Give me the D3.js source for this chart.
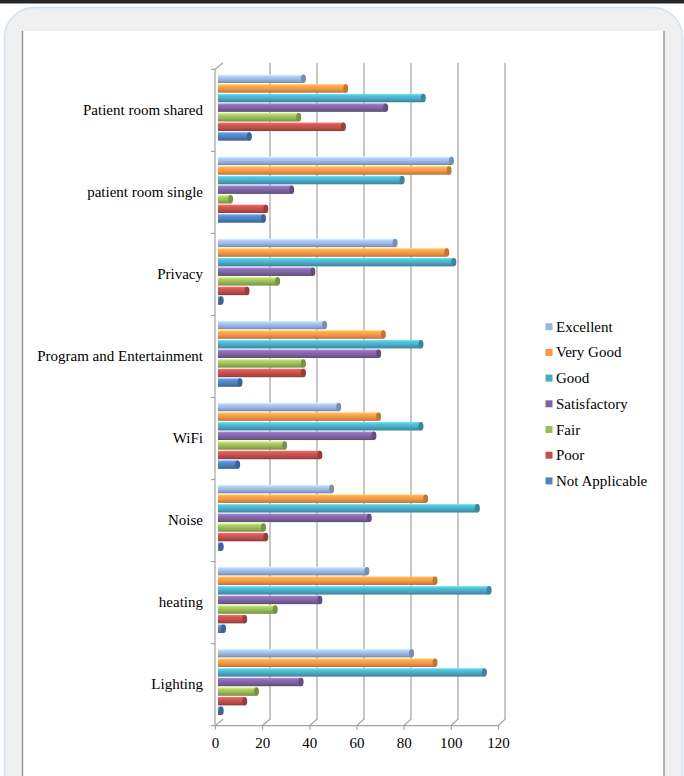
<!DOCTYPE html>
<html>
<head>
<meta charset="utf-8">
<script src="https://cdn.jsdelivr.net/npm/d3@7/dist/d3.min.js"></script>
<style>
  html, body { margin: 0; padding: 0; background: #ffffff; }
  svg { display: block; }
  text { font-family: "Liberation Serif", "Times New Roman", serif; fill: #000; }
</style>
</head>
<body>
<svg id="chart" width="684" height="776"></svg>
<script>
// Facility ratings, one row per category (top to bottom as drawn)
const categories = [
  "Patient room shared", "patient room single", "Privacy",
  "Program and Entertainment", "WiFi", "Noise", "heating", "Lighting"
];
const seriesNames = ["Excellent", "Very Good", "Good", "Satisfactory", "Fair", "Poor", "Not Applicable"];
const seriesColors = ["#9db7e0", "#f79646", "#4bacc6", "#8064a2", "#9bbb59", "#c0504d", "#4f81bd"];

const excellent     = [37, 100, 76, 46, 52, 49, 64, 83];
const veryGood      = [55, 99, 98, 71, 69, 89, 93, 93];
const good          = [88, 79, 101, 87, 87, 111, 116, 114];
const satisfactory  = [72, 32, 41, 69, 67, 65, 44, 36];
const fair          = [35, 6, 26, 37, 29, 20, 25, 17];
const poor          = [54, 21, 13, 37, 44, 21, 12, 12];
const notApplicable = [14, 20, 2, 10, 9, 2, 3, 2];

const xTicks = [0, 20, 40, 60, 80, 100, 120];

const seriesValues = [excellent, veryGood, good, satisfactory, fair, poor, notApplicable];

const svg = d3.select("#chart");

// ---- page frame ----
svg.append("rect").attr("x", 0).attr("y", 0).attr("width", 684).attr("height", 3.5).attr("fill", "#262626");
svg.append("rect")
  .attr("x", 4.5).attr("y", 7.5).attr("width", 678).attr("height", 820)
  .attr("rx", 30).attr("ry", 30)
  .attr("fill", "#f0f0f0").attr("stroke", "#cfe3f1").attr("stroke-width", 1.5);
svg.append("rect").attr("x", 22).attr("y", 31).attr("width", 642).attr("height", 760).attr("fill", "#ffffff");
svg.append("line").attr("x1", 22.5).attr("x2", 22.5).attr("y1", 31).attr("y2", 776).attr("stroke", "#8c8c8c").attr("stroke-width", 1.3);
svg.append("line").attr("x1", 664).attr("x2", 664).attr("y1", 31).attr("y2", 776).attr("stroke", "#8c8c8c").attr("stroke-width", 1.3);

// ---- scales ----
const x = d3.scaleLinear().domain([0, 120]).range([218, 500]);        // bar depth (mid plane)
const xFront = d3.scaleLinear().domain([0, 120]).range([215, 498]);   // front axis plane
const xBack = d3.scaleLinear().domain([0, 120]).range([223, 505]);    // back wall plane

const yTop = 69.3, yBottom = 725.7, backLift = 6.5;
const y = d3.scaleBand().domain(categories).range([yTop, yBottom]).padding(0);
const yInner = d3.scaleBand().domain(seriesNames).range([0, 66.05]).paddingInner(0.12);

const gridColor = "#a3a3a3";
const grid = svg.append("g").attr("fill", "none").attr("stroke", gridColor).attr("stroke-width", 1.2);

// back wall gridlines with their oblique floor segment to the front axis
xTicks.forEach(t => {
  if (t === 0) return;
  grid.append("path").attr("d",
    `M${xBack(t)},${yTop - backLift} L${xBack(t)},${yBottom - backLift} L${xFront(t)},${yBottom}`);
});
// floor edge at zero, top-left corner of the wall
grid.append("path").attr("d", `M${xBack(0)},${yBottom - backLift} L${xFront(0)},${yBottom}`);
grid.append("path").attr("d", `M${xFront(0)},${yTop} L${xBack(0)},${yTop - backLift}`);

// ---- value axis (front) ----
const xAxis = d3.axisBottom(xFront).tickValues(xTicks).tickSize(4).tickPadding(8).tickFormat(d3.format("d"));
const gx = svg.append("g").attr("transform", `translate(0,${yBottom})`).call(xAxis);
gx.select(".domain").attr("stroke", gridColor).attr("stroke-width", 1.2).attr("d", `M${xFront(0)},0H${xFront(120)}`);
gx.selectAll(".tick line").attr("stroke", gridColor).attr("stroke-width", 1.2);
gx.selectAll(".tick text").attr("font-family", "Liberation Serif, serif").attr("font-size", 15).attr("fill", "#000");

// ---- category axis (left) ----
const boundaries = categories.map(c => y(c)).concat([yBottom]);
const gy = svg.append("g");
gy.append("line").attr("x1", xFront(0)).attr("x2", xFront(0)).attr("y1", yTop).attr("y2", yBottom)
  .attr("stroke", gridColor).attr("stroke-width", 1.2);
gy.selectAll("line.tick").data(boundaries).join("line").attr("class", "tick")
  .attr("x1", xFront(0) - 4).attr("x2", xFront(0)).attr("y1", d => d).attr("y2", d => d)
  .attr("stroke", gridColor).attr("stroke-width", 1.2);
gy.selectAll("text").data(categories).join("text")
  .attr("x", 203).attr("y", d => y(d) + y.bandwidth() / 2 - 0.5)
  .attr("text-anchor", "end").attr("dominant-baseline", "central")
  .attr("font-size", 15).text(d => d);

// ---- cylinder shading ----
const defs = svg.append("defs");
seriesColors.forEach((c, i) => {
  const base = d3.color(c);
  const g = defs.append("linearGradient").attr("id", "cyl" + i)
    .attr("x1", 0).attr("y1", 0).attr("x2", 0).attr("y2", 1);
  g.append("stop").attr("offset", "0%").attr("stop-color", base.brighter(0.9));
  g.append("stop").attr("offset", "22%").attr("stop-color", base.brighter(0.35));
  g.append("stop").attr("offset", "55%").attr("stop-color", base);
  g.append("stop").attr("offset", "85%").attr("stop-color", base.darker(0.45));
  g.append("stop").attr("offset", "100%").attr("stop-color", base.darker(0.9));
});

// ---- bars ----
const bars = [];
categories.forEach((cat, ci) => {
  seriesNames.forEach((s, si) => bars.push({ cat, s, si, v: seriesValues[si][ci] }));
});
const h = yInner.bandwidth();
const barG = svg.append("g");
const bar = barG.selectAll("g.bar").data(bars).join("g").attr("class", "bar")
  .attr("transform", d => `translate(0,${y(d.cat) + 5.3 + yInner(d.s)})`);
bar.append("rect")
  .attr("x", x(0)).attr("y", 0)
  .attr("width", d => Math.max(0, x(d.v) - 1.5 - x(0))).attr("height", h)
  .attr("fill", d => `url(#cyl${d.si})`);
bar.append("ellipse")
  .attr("cx", d => x(d.v) - 1.5).attr("cy", h / 2).attr("rx", 2.5).attr("ry", h / 2)
  .attr("fill", d => d3.color(seriesColors[d.si]).darker(0.7));

// ---- legend ----
const legend = svg.append("g");
const item = legend.selectAll("g").data(seriesNames).join("g")
  .attr("transform", (d, i) => `translate(545.5,${326.7 + i * 25.7})`);
item.append("rect").attr("x", 0).attr("y", -3.5).attr("width", 7).attr("height", 7)
  .attr("fill", (d, i) => seriesColors[i]);
item.append("text").attr("x", 10.5).attr("y", 0).attr("dominant-baseline", "central")
  .attr("font-size", 15).text(d => d);
</script>
</body>
</html>
